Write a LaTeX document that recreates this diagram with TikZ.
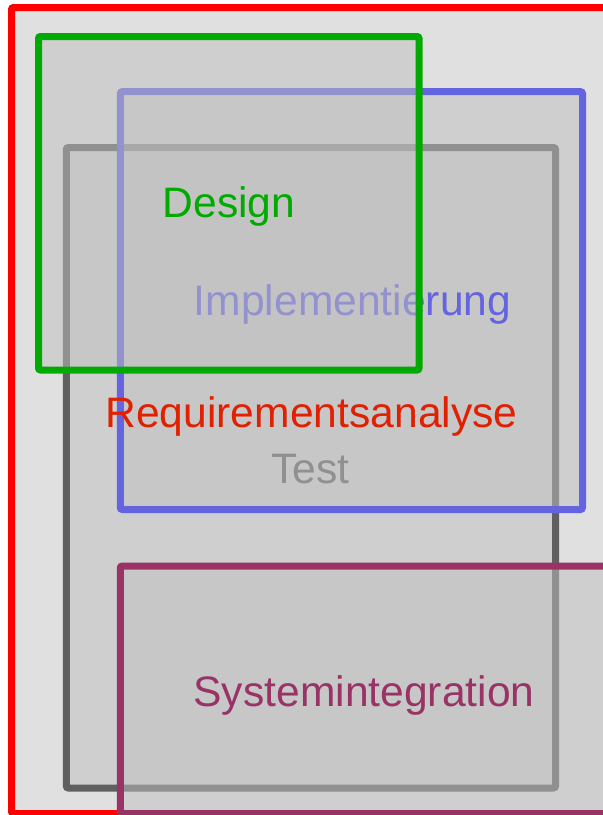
\documentclass[tikz,border=0pt]{standalone}
\usepackage{fontspec}
\setmainfont{Liberation Sans}
\definecolor{reqred}{RGB}{255,0,0}
\definecolor{reqtext}{RGB}{224,32,0}
\definecolor{testgray}{RGB}{96,96,96}
\definecolor{implblue}{RGB}{100,100,224}
\definecolor{designgreen}{RGB}{0,170,0}
\definecolor{sysplum}{RGB}{153,51,102}
\definecolor{panelfill}{RGB}{192,192,192}
\definecolor{outerfill}{RGB}{224,224,224}
\tikzset{
  phase/.style={line width=7pt, rounded corners=2pt, fill=panelfill, fill opacity=0.5, draw opacity=1},
  phaselabel/.style={anchor=base, inner sep=0pt, font=\fontsize{42.6pt}{42.6pt}\selectfont}
}
\begin{document}
\begin{tikzpicture}[x=1pt,y=-1pt]
  \useasboundingbox (0,0) rectangle (603,815);
  \fill[white] (0,0) rectangle (603,815);
  \clip (0,0) rectangle (603,815);
  % requirements analysis: the enclosing frame
  \draw[line width=7pt, rounded corners=2pt, draw=reqred, fill=outerfill] (11.5,7.5) rectangle (640,813.5);
  % test
  \draw[phase, draw=testgray] (66.3,147.5) rectangle (555.5,788);
  \node[phaselabel, text=testgray] (test) at (310.5,483) {Test};
  % implementation
  \draw[phase, draw=implblue] (120.3,91.7) rectangle (582.5,509.5);
  \node[phaselabel, text=implblue] (impl) at (352.5,315.5) {Implementierung};
  % design
  \draw[phase, draw=designgreen] (38.5,36.5) rectangle (419,370);
  \node[phaselabel, text=designgreen] (design) at (229,217) {Design};
  % system integration
  \draw[phase, draw=sysplum] (120.3,566) rectangle (660,813.5);
  \node[phaselabel, text=sysplum] (sysint) at (364,706.5) {Systemintegration};
  % label of the enclosing frame, on top of everything
  \node[phaselabel, text=reqtext] (req) at (311.5,427) {Requirementsanalyse};
\end{tikzpicture}
\end{document}
